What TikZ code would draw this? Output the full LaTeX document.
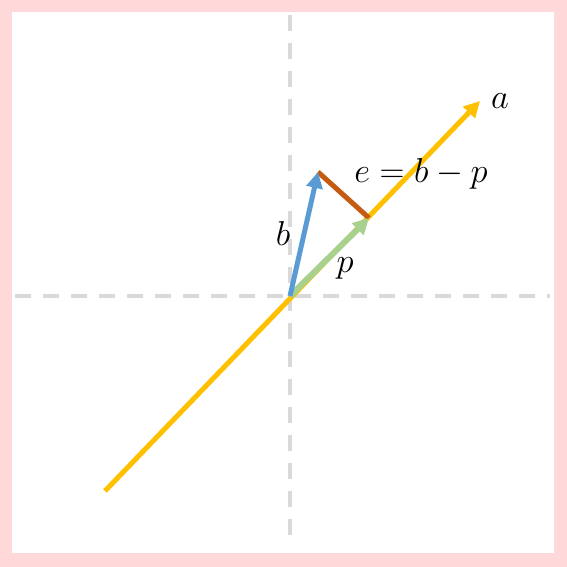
\documentclass[tikz,border=0pt]{standalone}
\usetikzlibrary{arrows.meta}
\definecolor{axisgray}{HTML}{D9D9D9}
\definecolor{lineorange}{HTML}{FFC000}
\definecolor{vecblue}{HTML}{5B9BD5}
\definecolor{vecgreen}{HTML}{A9D18E}
\definecolor{errbrown}{HTML}{C55A11}
\definecolor{framepink}{HTML}{FFD9D9}
\tikzset{
  axis/.style={axisgray, line width=2pt, dash pattern=on 8pt off 6pt},
  vec/.style={line width=2.5pt, -{Triangle[length=8pt,width=8pt]}},
  lbl/.style={font=\fontsize{17}{20}\selectfont}
}
\begin{document}
\begin{tikzpicture}[x=0.5pt, y=-0.5pt, >=Stealth]
  % frame
  \fill[framepink] (0,0) rectangle (567,567);
  \fill[white] (12,12) rectangle (554,553);
  \useasboundingbox (0,0) rectangle (567,567);
  % axes
  \coordinate (O) at (290,296);
  \coordinate (xl) at (15,296);
  \coordinate (xr) at (550,296);
  \coordinate (yt) at (290,15);
  \coordinate (yb) at (290,535);
  \draw[axis] (xl) -- (xr);
  \draw[axis] (yt) -- (yb);
  % line through a
  \coordinate (S) at (105,491);
  \coordinate (A) at (480,101);
  \draw[vec, lineorange, line cap=butt] (S) -- (A);
  % projection p and error e
  \coordinate (P) at (369,218);
  \coordinate (B) at (318,172);
  \draw[line width=2.5pt, errbrown] (B) -- (P);
  \draw[vec, vecgreen, line width=3pt] (O) -- (P);
  \draw[vec, vecblue] (O) -- (B);
  % labels
  \node[lbl] (la) at (500,101) {$a$};
  \node[lbl] (le) at (421,174) {$e=b-p$};
  \node[lbl] (lb) at (283,233) {$b$};
  \node[lbl] (lp) at (345,268) {$p$};
\end{tikzpicture}
\end{document}
